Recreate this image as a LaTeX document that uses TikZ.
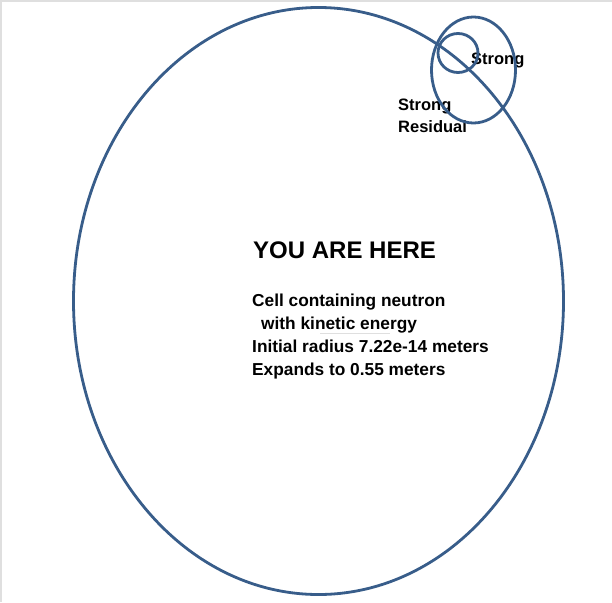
\documentclass[tikz,border=0pt]{standalone}
\usepackage{fontspec}
\setmainfont{Liberation Sans}
\usepackage{tikz}
\definecolor{cellblue}{RGB}{56,93,138}

\tikzset{
  cellline/.style={draw=cellblue, line width=2.8pt},
  lbl/.style={anchor=base west, inner sep=0pt, font=\bfseries\fontsize{16.5}{20}\selectfont},
  body/.style={anchor=base west, inner sep=0pt, font=\bfseries\fontsize{17.3}{20}\selectfont},
  bigl/.style={anchor=base west, inner sep=0pt, font=\bfseries\fontsize{24}{28}\selectfont}
}

\begin{document}
\begin{tikzpicture}[x=1pt, y=-1pt]
\useasboundingbox (0,0) rectangle (612,602);
\begin{scope}
% faint frame
\draw[gray!25, line width=1.5pt] (1,602)--(1,1)--(612,1);

% labels
\node[bigl] (here) at (253,258) {YOU ARE HERE};
\node[body] (cell) at (252,306) {Cell containing neutron};
\node[body] (kin) at (261,329) {with kinetic energy};
\node[body] (rad) at (252,352) {Initial radius 7.22e-14 meters};
\node[body] (exp) at (252,375) {Expands to 0.55 meters};
\node[lbl] (strong) at (471,64) {Strong};
\node[lbl] (res1) at (398,110) {Strong};
\node[lbl] (res2) at (398,132) {Residual};

\draw[gray!25, line width=0.8pt] (320,333)--(390,333);

% the cell and the two force ranges
\draw[cellline] (318.5,301) ellipse (245 and 293.5);
\draw[cellline] (473.5,70) ellipse (42 and 53);
\draw[cellline] (458,53) ellipse (20 and 19.5);
\end{scope}
\end{tikzpicture}
\end{document}
